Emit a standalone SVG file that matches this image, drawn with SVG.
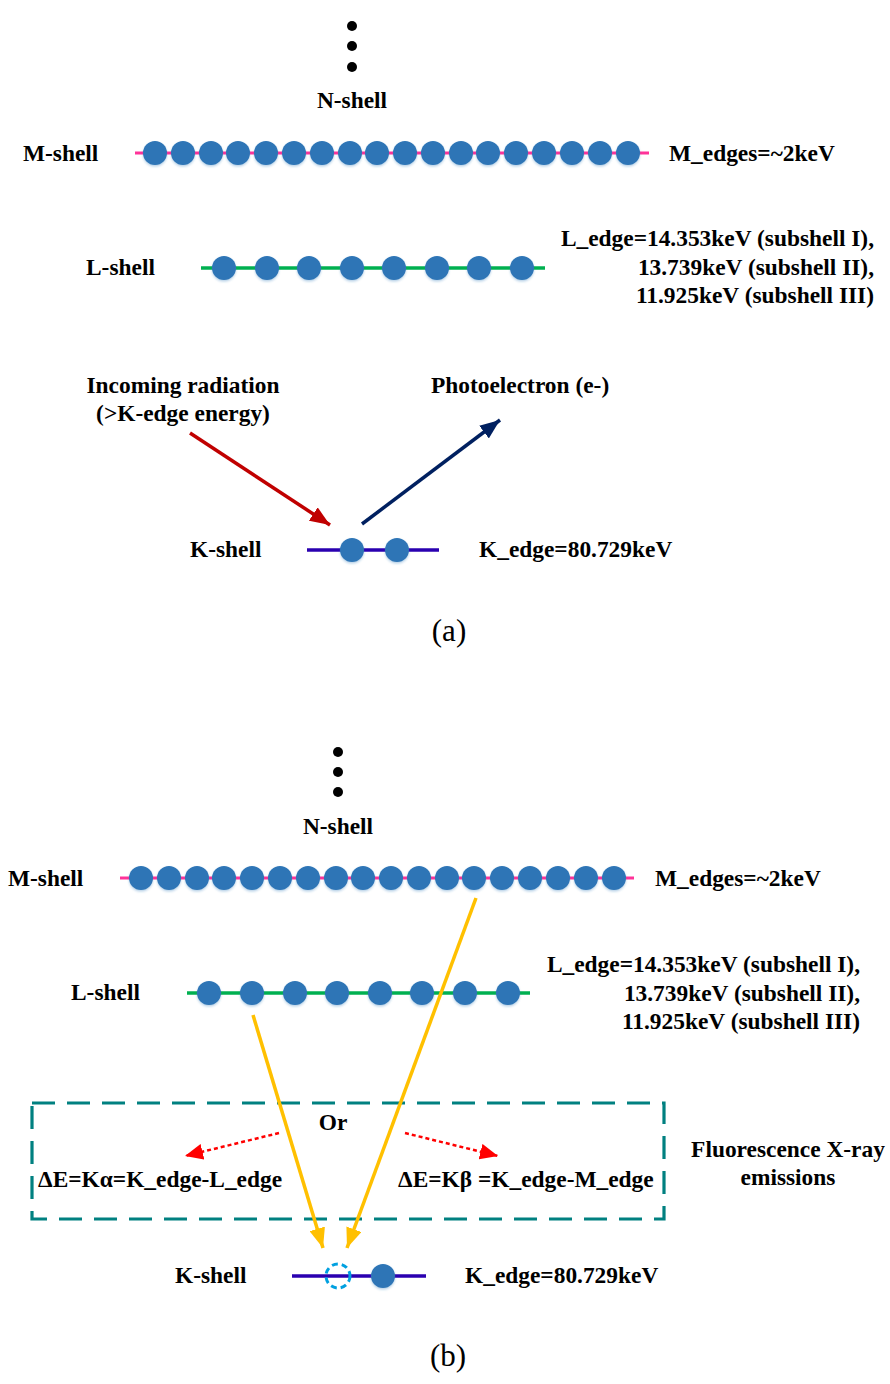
<svg xmlns="http://www.w3.org/2000/svg" width="890" height="1384" viewBox="0 0 890 1384">
  <style>
    .t { font-family: "Liberation Serif", "Times New Roman", serif; font-weight: bold; font-size: 23.4px; fill: #000; }
    .cap { font-family: "Liberation Serif", "Times New Roman", serif; font-size: 31px; fill: #000; }
    .e { fill: #2E75B6; filter: url(#soft); }
    .mline { stroke: #FF3399; stroke-width: 3; }
    .lline { stroke: #00B050; stroke-width: 3.5; }
    .kline { stroke: #2A00B0; stroke-width: 3.5; }
    .dot { fill: #000; }
  </style>
  <defs>
    <filter id="soft" x="-30%" y="-30%" width="160%" height="170%">
      <feDropShadow dx="0" dy="1.5" stdDeviation="1.2" flood-color="#2E75B6" flood-opacity="0.35"/>
    </filter>
    <marker id="hRed" markerUnits="userSpaceOnUse" markerWidth="22" markerHeight="16" refX="20" refY="8" orient="auto">
      <path d="M0,0 L20,8 L0,16 Z" fill="#C00000"/>
    </marker>
    <marker id="hNavy" markerUnits="userSpaceOnUse" markerWidth="22" markerHeight="16" refX="20" refY="8" orient="auto">
      <path d="M0,0 L20,8 L0,16 Z" fill="#002060"/>
    </marker>
    <marker id="hGold" markerUnits="userSpaceOnUse" markerWidth="22" markerHeight="16" refX="20" refY="8" orient="auto">
      <path d="M0,0 L20,8 L0,16 Z" fill="#FFC000"/>
    </marker>
    <marker id="hDot" markerUnits="userSpaceOnUse" markerWidth="20" markerHeight="16" refX="18" refY="8" orient="auto">
      <path d="M0,0 L18,8 L0,16 Z" fill="#FF0000"/>
    </marker>
  </defs>

  <!-- ===== Panel (a): photoabsorption ===== -->
  <g id="a-nshell">
    <circle class="dot" cx="352" cy="26" r="5"/>
    <circle class="dot" cx="352" cy="46" r="5"/>
    <circle class="dot" cx="352" cy="67" r="5"/>
    <text class="t" x="352" y="108" text-anchor="middle">N-shell</text>
  </g>

  <g id="a-mshell">
    <text class="t" x="23" y="161">M-shell</text>
    <line class="mline" x1="135" y1="153" x2="649" y2="153"/>
    <circle class="e" cx="155" cy="153" r="12"/>
    <circle class="e" cx="183" cy="153" r="12"/>
    <circle class="e" cx="211" cy="153" r="12"/>
    <circle class="e" cx="238" cy="153" r="12"/>
    <circle class="e" cx="266" cy="153" r="12"/>
    <circle class="e" cx="294" cy="153" r="12"/>
    <circle class="e" cx="322" cy="153" r="12"/>
    <circle class="e" cx="350" cy="153" r="12"/>
    <circle class="e" cx="377" cy="153" r="12"/>
    <circle class="e" cx="405" cy="153" r="12"/>
    <circle class="e" cx="433" cy="153" r="12"/>
    <circle class="e" cx="461" cy="153" r="12"/>
    <circle class="e" cx="488" cy="153" r="12"/>
    <circle class="e" cx="516" cy="153" r="12"/>
    <circle class="e" cx="544" cy="153" r="12"/>
    <circle class="e" cx="572" cy="153" r="12"/>
    <circle class="e" cx="600" cy="153" r="12"/>
    <circle class="e" cx="628" cy="153" r="12"/>
    <text class="t" x="669" y="161">M_edges=~2keV</text>
  </g>

  <g id="a-lshell">
    <text class="t" x="86" y="275">L-shell</text>
    <line class="lline" x1="201" y1="268" x2="545" y2="268"/>
    <circle class="e" cx="224" cy="268" r="12"/>
    <circle class="e" cx="267" cy="268" r="12"/>
    <circle class="e" cx="309" cy="268" r="12"/>
    <circle class="e" cx="352" cy="268" r="12"/>
    <circle class="e" cx="394" cy="268" r="12"/>
    <circle class="e" cx="437" cy="268" r="12"/>
    <circle class="e" cx="479" cy="268" r="12"/>
    <circle class="e" cx="522" cy="268" r="12"/>
    <text class="t" x="874" y="246" text-anchor="end">L_edge=14.353keV (subshell I),</text>
    <text class="t" x="874" y="275" text-anchor="end">13.739keV (subshell II),</text>
    <text class="t" x="874" y="303" text-anchor="end">11.925keV (subshell III)</text>
  </g>

  <g id="a-radiation">
    <text class="t" x="183" y="393" text-anchor="middle">Incoming radiation</text>
    <text class="t" x="183" y="421" text-anchor="middle">(&gt;K-edge energy)</text>
  </g>

  <g id="a-photoelectron">
    <text class="t" x="431" y="393">Photoelectron (e-)</text>
  </g>

  <g id="a-kshell">
    <text class="t" x="190" y="557">K-shell</text>
    <line class="kline" x1="307" y1="550" x2="439" y2="550"/>
    <circle class="e" cx="352" cy="550" r="12"/>
    <circle class="e" cx="397" cy="550" r="12"/>
    <text class="t" x="479" y="557">K_edge=80.729keV</text>
  </g>

  <g id="a-connectors">
    <line x1="190" y1="433" x2="330" y2="525" stroke="#C00000" stroke-width="3.5" marker-end="url(#hRed)"/>
    <line x1="362" y1="524" x2="500" y2="420" stroke="#002060" stroke-width="3.5" marker-end="url(#hNavy)"/>
  </g>

  <text class="cap" x="449" y="641" text-anchor="middle">(a)</text>

  <!-- ===== Panel (b): fluorescence ===== -->
  <g id="b-nshell">
    <circle class="dot" cx="338" cy="752" r="5"/>
    <circle class="dot" cx="338" cy="772" r="5"/>
    <circle class="dot" cx="338" cy="792" r="5"/>
    <text class="t" x="338" y="834" text-anchor="middle">N-shell</text>
  </g>

  <g id="b-mshell">
    <text class="t" x="8" y="886">M-shell</text>
    <line class="mline" x1="120" y1="878" x2="634" y2="878"/>
    <circle class="e" cx="141" cy="878" r="12"/>
    <circle class="e" cx="169" cy="878" r="12"/>
    <circle class="e" cx="197" cy="878" r="12"/>
    <circle class="e" cx="224" cy="878" r="12"/>
    <circle class="e" cx="252" cy="878" r="12"/>
    <circle class="e" cx="280" cy="878" r="12"/>
    <circle class="e" cx="308" cy="878" r="12"/>
    <circle class="e" cx="336" cy="878" r="12"/>
    <circle class="e" cx="363" cy="878" r="12"/>
    <circle class="e" cx="391" cy="878" r="12"/>
    <circle class="e" cx="419" cy="878" r="12"/>
    <circle class="e" cx="447" cy="878" r="12"/>
    <circle class="e" cx="474" cy="878" r="12"/>
    <circle class="e" cx="502" cy="878" r="12"/>
    <circle class="e" cx="530" cy="878" r="12"/>
    <circle class="e" cx="558" cy="878" r="12"/>
    <circle class="e" cx="586" cy="878" r="12"/>
    <circle class="e" cx="614" cy="878" r="12"/>
    <text class="t" x="655" y="886">M_edges=~2keV</text>
  </g>

  <g id="b-lshell">
    <text class="t" x="71" y="1000">L-shell</text>
    <line class="lline" x1="187" y1="993" x2="530" y2="993"/>
    <circle class="e" cx="209" cy="993" r="12"/>
    <circle class="e" cx="252" cy="993" r="12"/>
    <circle class="e" cx="295" cy="993" r="12"/>
    <circle class="e" cx="337" cy="993" r="12"/>
    <circle class="e" cx="380" cy="993" r="12"/>
    <circle class="e" cx="422" cy="993" r="12"/>
    <circle class="e" cx="465" cy="993" r="12"/>
    <circle class="e" cx="508" cy="993" r="12"/>
    <text class="t" x="860" y="972" text-anchor="end">L_edge=14.353keV (subshell I),</text>
    <text class="t" x="860" y="1001" text-anchor="end">13.739keV (subshell II),</text>
    <text class="t" x="860" y="1029" text-anchor="end">11.925keV (subshell III)</text>
  </g>

  <g id="b-emission">
    <rect x="32" y="1103" width="632" height="116" fill="none" stroke="#008080" stroke-width="3.2" stroke-dasharray="23,12"/>
    <text class="t" x="333" y="1130" text-anchor="middle">Or</text>
    <text class="t" x="38" y="1187">ΔE=Kα=K_edge-L_edge</text>
    <text class="t" x="398" y="1187">ΔE=Kβ =K_edge-M_edge</text>
  </g>

  <g id="b-label">
    <text class="t" x="788" y="1157" text-anchor="middle">Fluorescence X-ray</text>
    <text class="t" x="788" y="1185" text-anchor="middle">emissions</text>
  </g>

  <g id="b-kshell">
    <text class="t" x="175" y="1283">K-shell</text>
    <line class="kline" x1="292" y1="1276" x2="426" y2="1276"/>
    <circle cx="338" cy="1276" r="12" fill="none" stroke="#00A0E0" stroke-width="3" stroke-dasharray="6,4"/>
    <circle class="e" cx="383" cy="1276" r="12"/>
    <text class="t" x="465" y="1283">K_edge=80.729keV</text>
  </g>

  <g id="b-connectors">
    <line x1="253" y1="1015" x2="323" y2="1248" stroke="#FFC000" stroke-width="3.5" marker-end="url(#hGold)"/>
    <line x1="476" y1="898" x2="347" y2="1248" stroke="#FFC000" stroke-width="3.5" marker-end="url(#hGold)"/>
    <line x1="279" y1="1133" x2="185" y2="1156" stroke="#FF0000" stroke-width="2.5" stroke-dasharray="4,3" marker-end="url(#hDot)"/>
    <line x1="405" y1="1133" x2="498" y2="1156" stroke="#FF0000" stroke-width="2.5" stroke-dasharray="4,3" marker-end="url(#hDot)"/>
  </g>

  <text class="cap" x="448" y="1366" text-anchor="middle">(b)</text>
</svg>
